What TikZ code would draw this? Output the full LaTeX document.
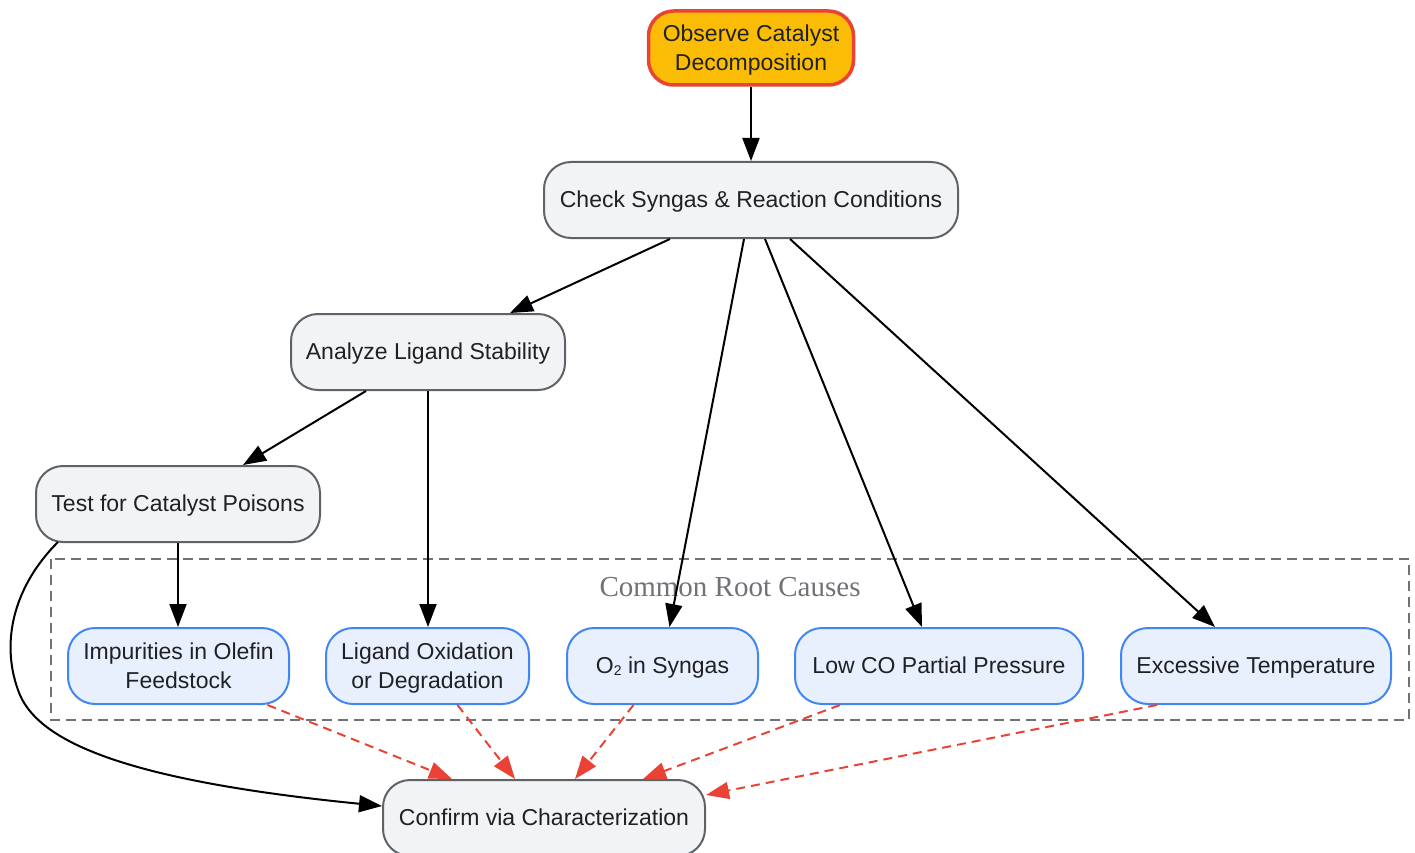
\documentclass[tikz,border=0pt]{standalone}
\usepackage{fontspec}
\setmainfont{Liberation Sans}
\newfontfamily\serifcl{Liberation Serif}
\usetikzlibrary{arrows.meta}
\definecolor{gfill}{HTML}{F1F3F4}
\definecolor{gline}{HTML}{5F6368}
\definecolor{bfill}{HTML}{E8F0FE}
\definecolor{bline}{HTML}{4285F4}
\definecolor{ofill}{HTML}{FBBC05}
\definecolor{rline}{HTML}{EA4335}
\definecolor{txt}{HTML}{202124}
\newcommand{\subtwo}{\raisebox{-0.15ex}{\fontsize{14}{14}\selectfont 2}}
\begin{document}
\begin{tikzpicture}[x=1pt,y=-1pt,
  every node/.style={font=\fontsize{23}{29}\selectfont, text=txt, align=center, inner sep=0pt},
  one/.style={text height=17pt, text depth=2pt},
  two/.style={text depth=0pt},
  gbox/.style={draw=gline, fill=gfill, line width=2pt, rounded corners=27pt, minimum height=76pt},
  bbox/.style={draw=bline, fill=bfill, line width=2pt, rounded corners=27pt, minimum height=76pt},
  obox/.style={draw=rline, fill=ofill, line width=3.5pt, rounded corners=25pt, minimum height=74pt},
  arr/.style={draw=black, line width=2pt, -{Triangle[length=23pt,width=17pt]}},
  rarr/.style={draw=rline, line width=2pt, dash pattern=on 9pt off 6pt, -{Triangle[length=23pt,width=17pt]}}
]
\useasboundingbox (0,0) rectangle (1415,853);
% cluster
\draw[draw=gline!90, line width=2pt, dash pattern=on 10pt off 6pt] (51,559) rectangle (1409,720);
\node[font=\serifcl\fontsize{29}{32}\selectfont, text=gline!90] (cl) at (730,587) {Common Root Causes};
% nodes
\node[obox, two, minimum width=205pt] (obs) at (751,48) {Observe Catalyst\\Decomposition};
\node[gbox, one, minimum width=414pt] (chk) at (751,200) {Check Syngas \& Reaction Conditions};
\node[gbox, one, minimum width=274pt] (ana) at (428,352) {Analyze Ligand Stability};
\node[gbox, one, minimum width=284pt] (tst) at (178,504) {Test for Catalyst Poisons};
\node[bbox, two, minimum width=221pt] (imp) at (178.5,666) {Impurities in Olefin\\Feedstock};
\node[bbox, two, minimum width=203pt] (lig) at (427.5,666) {Ligand Oxidation\\or Degradation};
\node[bbox, one, minimum width=191pt] (oxy) at (662.5,666) {O\subtwo{} in Syngas};
\node[bbox, one, minimum width=288pt] (lco) at (939,666) {Low CO Partial Pressure};
\node[bbox, one, minimum width=270pt] (exc) at (1256,666) {Excessive Temperature};
\node[gbox, one, minimum width=322pt] (cnf) at (544,818) {Confirm via Characterization};
% edges
\draw[arr] (obs.south) -- (chk.north);
\draw[arr] ([xshift=-81pt]chk.south) -- ([xshift=82pt]ana.north);
\draw[arr] ([xshift=-7pt]chk.south) -- ([xshift=7pt]oxy.north);
\draw[arr] ([xshift=14pt]chk.south) -- ([xshift=-17pt]lco.north);
\draw[arr] ([xshift=39pt]chk.south) -- ([xshift=-41pt]exc.north);
\draw[arr] ([xshift=-62pt]ana.south) -- ([xshift=65pt]tst.north);
\draw[arr] (ana.south) -- (ana.south |- lig.north);
\draw[arr] (tst.south) -- (tst.south |- imp.north);
\draw[arr] ([xshift=-120pt,yshift=1pt]tst.south) .. controls (15,585) and (0,640) .. (18,690)
  .. controls (35,740) and (120,780) .. ([yshift=12pt]cnf.west);
% red dashed
\draw[rarr] ([xshift=89pt]imp.south) -- ([xshift=-92pt]cnf.north);
\draw[rarr] ([xshift=30pt]lig.south) -- ([xshift=-29pt]cnf.north);
\draw[rarr] ([xshift=-29pt]oxy.south) -- ([xshift=31pt]cnf.north);
\draw[rarr] ([xshift=-99pt]lco.south) -- ([xshift=99pt]cnf.north);
\draw[rarr] ([xshift=-99pt]exc.south) -- ([yshift=23pt]cnf.east);
\end{tikzpicture}
\end{document}
